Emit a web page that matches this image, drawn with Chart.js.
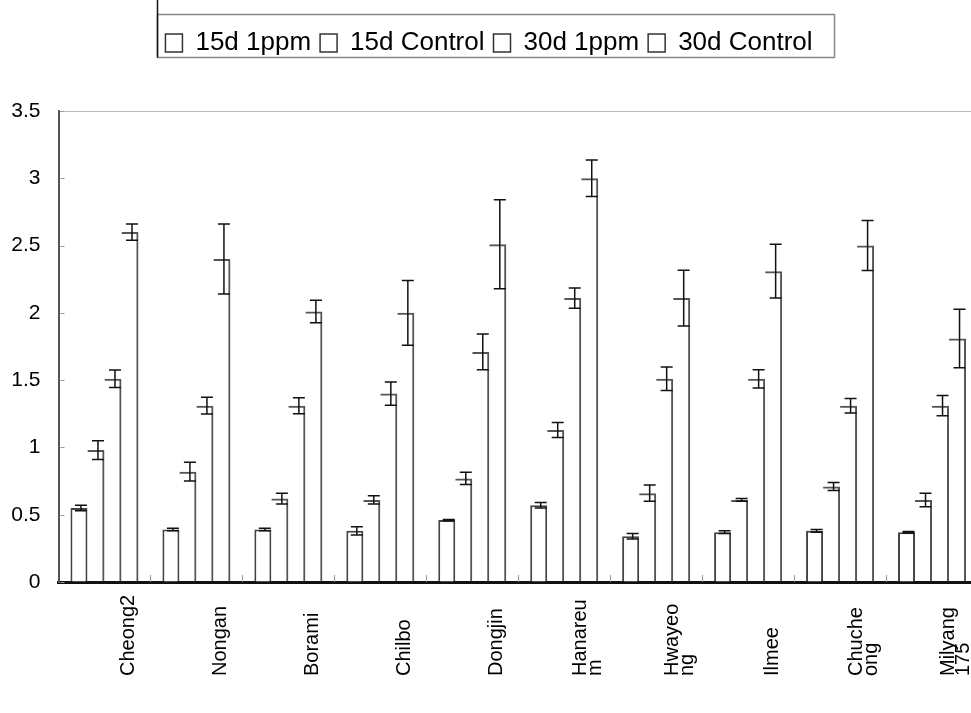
<!DOCTYPE html>
<html>
<head>
<meta charset="utf-8">
<script src="https://cdn.jsdelivr.net/npm/chart.js@4.4.1/dist/chart.umd.min.js"></script>
<style>
html,body{margin:0;padding:0;background:#fff;}
#wrap{width:971px;height:713px;overflow:hidden;}
</style>
</head>
<body>
<div id="wrap"><canvas id="chart" width="980" height="713"></canvas></div>
<script>
const labels = ['Cheong2','Nongan','Borami','Chilbo','Dongjin',['Hanareu','m'],['Hwayeo','ng'],'Ilmee',['Chuche','ong'],['Milyang','175']];
const d15ppm  = [0.55, 0.39, 0.39, 0.38, 0.46, 0.57, 0.34, 0.37, 0.38, 0.37];
const e15ppm  = [0.02, 0.01, 0.01, 0.03, 0.005, 0.02, 0.02, 0.01, 0.01, 0.005];
const d15ctl  = [0.98, 0.82, 0.62, 0.61, 0.77, 1.13, 0.66, 0.61, 0.71, 0.61];
const e15ctl  = [0.07, 0.07, 0.04, 0.03, 0.045, 0.056, 0.06, 0.01, 0.03, 0.05];
const d30ppm  = [1.51, 1.31, 1.31, 1.40, 1.71, 2.11, 1.51, 1.51, 1.31, 1.31];
const e30ppm  = [0.065, 0.062, 0.06, 0.087, 0.133, 0.075, 0.087, 0.068, 0.054, 0.075];
const d30ctl  = [2.60, 2.40, 2.01, 2.00, 2.51, 3.00, 2.11, 2.31, 2.50, 1.81];
const e30ctl  = [0.06, 0.26, 0.083, 0.24, 0.33, 0.135, 0.207, 0.2, 0.186, 0.217];
const yTicks = [0, 0.5, 1, 1.5, 2, 2.5, 3, 3.5];

const font = 'Liberation Sans, Arial, sans-serif';
const sideOnly = {top: 2, right: 2, bottom: 0, left: 0};

// error bars + axis decorations
const extras = {
  id: 'extras',
  afterDatasetsDraw(chart) {
    const ctx = chart.ctx, y = chart.scales.y;
    ctx.save();
    ctx.strokeStyle = '#111';
    ctx.lineWidth = 1.5;
    chart.data.datasets.forEach((ds, i) => {
      chart.getDatasetMeta(i).data.forEach((bar, j) => {
        const x = bar.x + 2, v = ds.data[j], e = ds.err[j];
        const hi = y.getPixelForValue(v + e), lo = y.getPixelForValue(v - e);
        ctx.beginPath();
        ctx.moveTo(x, hi); ctx.lineTo(x, lo);
        ctx.moveTo(x - 6, hi); ctx.lineTo(x + 6, hi);
        ctx.moveTo(x - 6, lo); ctx.lineTo(x + 6, lo);
        ctx.stroke();
      });
    });
    ctx.restore();
  },
  afterDraw(chart) {
    const ctx = chart.ctx, xs = chart.scales.x, ys = chart.scales.y, a = chart.chartArea;
    ctx.save();
    // small ticks
    ctx.strokeStyle = '#999';
    ctx.lineWidth = 1;
    ctx.beginPath();
    for (let i = 1; i < labels.length; i++) {
      const x = Math.round((xs.getPixelForValue(i - 1) + xs.getPixelForValue(i)) / 2) + 0.5;
      ctx.moveTo(x, a.bottom - 7); ctx.lineTo(x, a.bottom);
    }
    yTicks.forEach(t => {
      const y = Math.round(ys.getPixelForValue(t)) + 0.5;
      ctx.moveTo(a.left + 2, y); ctx.lineTo(a.left + 6, y);
    });
    ctx.stroke();

    // category labels, rotated
    ctx.fillStyle = '#000';
    ctx.font = '20px ' + font;
    ctx.textAlign = 'left';
    ctx.textBaseline = 'middle';
    labels.forEach((lab, i) => {
      const lines = Array.isArray(lab) ? lab : [lab];
      const cx = xs.getPixelForValue(i) + 24;
      lines.forEach((t, k) => {
        ctx.save();
        ctx.translate(cx + (k - (lines.length - 1) / 2) * 15, 676);
        ctx.rotate(-Math.PI / 2);
        ctx.fillText(t, 0, 0);
        ctx.restore();
      });
    });

    // legend frame
    const hb = chart.legend.legendHitBoxes;
    if (hb && hb.length) {
      const l = Math.round(hb[0].left) - 7.5;
      const last = hb[hb.length - 1];
      const r = Math.round(last.left + last.width) + 21.5;
      const t = Math.round(hb[0].top) - 15.5, b = Math.round(hb[0].top) + 27.5;
      ctx.strokeStyle = '#888';
      ctx.lineWidth = 1.5;
      ctx.strokeRect(l, t, r - l, b - t);
      ctx.strokeStyle = '#111';
      ctx.lineWidth = 1.5;
      ctx.beginPath();
      ctx.moveTo(l, 0); ctx.lineTo(l, b);
      ctx.stroke();
    }
    ctx.restore();
  }
};

new Chart(document.getElementById('chart'), {
  type: 'bar',
  data: {
    labels: labels,
    datasets: [
      {label: '15d 1ppm', data: d15ppm, err: e15ppm, backgroundColor: '#fff', borderColor: '#444', borderWidth: 2},
      {label: '15d Control', data: d15ctl, err: e15ctl, backgroundColor: 'rgba(255,255,255,0)', borderColor: '#555', borderWidth: sideOnly},
      {label: '30d 1ppm', data: d30ppm, err: e30ppm, backgroundColor: 'rgba(255,255,255,0)', borderColor: '#555', borderWidth: sideOnly},
      {label: '30d Control', data: d30ctl, err: e30ctl, backgroundColor: 'rgba(255,255,255,0)', borderColor: '#555', borderWidth: sideOnly}
    ]
  },
  options: {
    responsive: false,
    animation: false,
    devicePixelRatio: 1,
    barPercentage: 1,
    categoryPercentage: 0.74,
    layout: {padding: {top: 21, left: 0, right: 2, bottom: 0}},
    plugins: {
      tooltip: {enabled: false},
      legend: {
        position: 'top',
        labels: {
          color: '#000',
          font: {family: font, size: 26},
          boxWidth: 17,
          boxHeight: 18,
          padding: 9,
          generateLabels: (chart) => chart.data.datasets.map((ds, i) => ({
            text: ds.label, fillStyle: '#fff', strokeStyle: '#333', lineWidth: 1.5,
            datasetIndex: i, hidden: false, fontColor: '#000'
          }))
        }
      },
      subtitle: {
        display: true, text: '', weight: 500,
        font: {size: 10}, padding: {top: 33, bottom: 0}
      }
    },
    scales: {
      x: {
        grid: {display: false},
        border: {color: '#111', width: 3},
        ticks: {display: false},
        afterFit: (s) => { s.height = 131; }
      },
      y: {
        min: 0,
        max: 3.5,
        afterBuildTicks: (s) => { s.ticks = yTicks.map(v => ({value: v})); },
        grid: {
          drawTicks: false,
          color: (c) => c.tick && c.tick.value === 3.5 ? '#bbb' : 'rgba(0,0,0,0)'
        },
        border: {color: '#555', width: 2},
        ticks: {
          color: '#000',
          font: {family: font, size: 21},
          padding: 18,
          callback: (v) => String(v)
        },
        afterFit: (s) => { s.width = 58.5; }
      }
    }
  },
  plugins: [extras]
});
</script>
</body>
</html>
